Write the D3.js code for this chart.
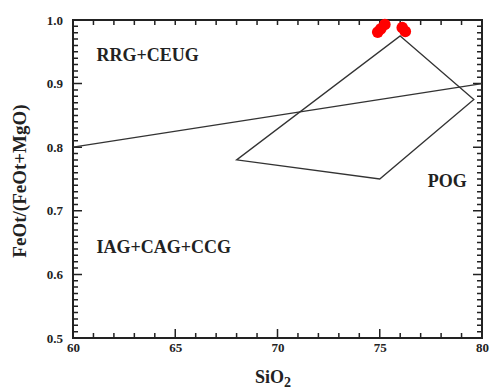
<!DOCTYPE html>
<html>
<head>
<meta charset="utf-8">
<script src="https://cdn.jsdelivr.net/npm/d3@7"></script>
<style>
  html, body { margin: 0; padding: 0; background: #fff; }
  svg { display: block; }
  text { font-family: "Liberation Serif", "Times New Roman", serif; font-weight: bold; fill: #222; }
</style>
</head>
<body>
<svg id="chart" width="492" height="389"></svg>
<script>
// Axis ranges and tick values
const xDomain = [60, 80];
const yDomain = [0.5, 1.0];
const xMajorTicks = [60, 65, 70, 75, 80];
const yMajorTicks = [0.5, 0.6, 0.7, 0.8, 0.9, 1.0];

// Boundary between RRG+CEUG and IAG+CAG+CCG fields
const dividerLine = [[60, 0.80], [80, 0.90]];

// POG field outline
const pogField = [[76.0, 0.975], [79.6, 0.875], [75.0, 0.75], [68.0, 0.78]];

// Samples (SiO2, FeOt/(FeOt+MgO))
const samples = [
  [74.9, 0.981], [75.05, 0.986], [75.25, 0.993],
  [76.1, 0.988], [76.25, 0.982]
];

// Field labels
const fieldLabels = [
  { text: "RRG+CEUG", x: 61.15, y: 0.935 },
  { text: "POG", x: 77.35, y: 0.738 },
  { text: "IAG+CAG+CCG", x: 61.15, y: 0.633 }
];

const svg = d3.select("#chart");
const m = { left: 73, right: 10, top: 20, bottom: 51 };
const W = 492, H = 389;

const x = d3.scaleLinear().domain(xDomain).range([m.left, W - m.right]);
const y = d3.scaleLinear().domain(yDomain).range([H - m.bottom, m.top]);

const xMinor = d3.range(xDomain[0] + 1, xDomain[1], 1).filter(v => v % 5 !== 0);
const yMinor = d3.range(1, 50).map(i => +(yDomain[0] + i * 0.01).toFixed(2))
  .filter(v => Math.abs(v * 10 - Math.round(v * 10)) > 1e-6);

const axisColor = "#222";
const bx = y(yDomain[0]), tx = y(yDomain[1]), lx = x(xDomain[0]), rx = x(xDomain[1]);

// Inward ticks on all four sides, drawn as one path
const p = d3.path();
function xTicks(vals, base, len) {
  vals.forEach(v => { p.moveTo(x(v), base); p.lineTo(x(v), base + len); });
}
function yTicks(vals, base, len) {
  vals.forEach(v => { p.moveTo(base, y(v)); p.lineTo(base + len, y(v)); });
}
xTicks(xMinor, bx, -5);
xTicks(xMajorTicks, bx, -9);
xTicks(xMinor, tx, 5);
xTicks(xMajorTicks, tx, 5);
yTicks(yMinor, lx, 5);
yTicks(yMajorTicks, lx, 9);
yTicks(yMinor, rx, -5);
yTicks(yMajorTicks, rx, -9);
svg.append("path").attr("d", p.toString())
  .attr("fill", "none").attr("stroke", axisColor).attr("stroke-width", 1.5);

// Frame
svg.append("rect")
  .attr("x", lx).attr("y", tx)
  .attr("width", rx - lx).attr("height", bx - tx)
  .attr("fill", "none").attr("stroke", axisColor).attr("stroke-width", 2);

// Tick labels
const xl = d3.axisBottom(x).tickValues(xMajorTicks).tickSize(0).tickPadding(5).tickFormat(d3.format("d"));
const gxl = svg.append("g").attr("transform", `translate(0,${bx})`).call(xl);
gxl.select(".domain").remove();
gxl.selectAll("text").style("font-size", "13px").style("font-family", "Liberation Serif, serif").style("font-weight", "bold").attr("fill", "#222");

const yl = d3.axisLeft(y).tickValues(yMajorTicks).tickSize(0).tickPadding(10).tickFormat(d3.format(".1f"));
const gyl = svg.append("g").attr("transform", `translate(${lx},0)`).call(yl);
gyl.select(".domain").remove();
gyl.selectAll("text").style("font-size", "13px").style("font-family", "Liberation Serif, serif").style("font-weight", "bold").attr("fill", "#222");

// Field boundaries
const line = d3.line().x(d => x(d[0])).y(d => y(d[1]));
svg.append("path").attr("d", line(dividerLine))
  .attr("fill", "none").attr("stroke", "#333").attr("stroke-width", 1.3);
svg.append("path").attr("d", line(pogField) + "Z")
  .attr("fill", "none").attr("stroke", "#333").attr("stroke-width", 1.3);

// Field labels
svg.append("g").selectAll("text").data(fieldLabels).join("text")
  .attr("x", d => x(d.x)).attr("y", d => y(d.y))
  .style("font-size", "18px")
  .text(d => d.text);

// Sample points
svg.append("g").selectAll("circle").data(samples).join("circle")
  .attr("cx", d => x(d[0])).attr("cy", d => y(d[1]))
  .attr("r", 5.8).attr("fill", "#f00");

// Axis titles
const xt = svg.append("text")
  .attr("x", 273).attr("y", 383)
  .attr("text-anchor", "middle").style("font-size", "18px");
xt.append("tspan").text("SiO");
xt.append("tspan").attr("dy", 4).style("font-size", "14px").text("2");

svg.append("text")
  .attr("transform", `translate(26,181) rotate(-90)`)
  .attr("text-anchor", "middle").style("font-size", "19px")
  .text("FeOt/(FeOt+MgO)");
</script>
</body>
</html>
